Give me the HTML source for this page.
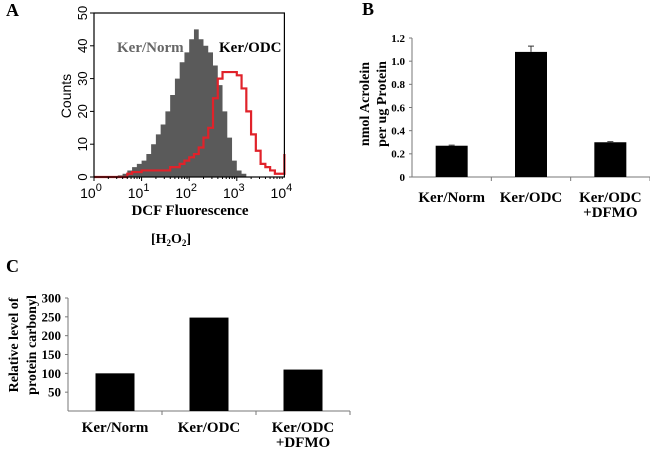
<!DOCTYPE html>
<html><head><meta charset="utf-8"><style>
body{margin:0;background:#fff;width:650px;height:450px;overflow:hidden}
svg{display:block}
text{font-family:"Liberation Serif",serif;font-weight:bold}
.s{font-family:"Liberation Sans",sans-serif;font-weight:normal}
</style></head><body>
<svg id="fig" width="650" height="450" viewBox="0 0 650 450">
<text x="6" y="16" font-size="18">A</text>
<text x="362" y="15" font-size="18">B</text>
<text x="6" y="272" font-size="18">C</text>
<g id="ga"></g>
<g id="gb"></g>
<g id="gc"></g>
</svg>
<script>
// Panel A data (bins of 0.1 decade from 10^0 to 10^4)
const grayCounts=[0,0,0,0,0,0.5,1,2,3,4,5,7,10,13,16,20,25,30,35,38,42,45,42,40,38,34,28,20,12,5,2,1,0,0,0,0,0,0,0,0];
const redCounts=[0,0,0,0,0,0,0,1,1.5,1.5,2,2,2,2,2,2,3,3,4,5,6,7,9,12,15,24,30,32,32,32,31,27,20,13,8,4,3,2,1,1,7];
const aYTicks=[0,10,20,30,40,50];
const aXTicks=[0,1,2,3,4];
// Panel B
const bCats=[["Ker/Norm"],["Ker/ODC"],["Ker/ODC","+DFMO"]];
const bVals=[0.27,1.08,0.30];
const bErr=[0.005,0.05,0.005];
const bTicks=["0","0.2","0.4","0.6","0.8","1.0","1.2"];
// Panel C
const cCats=[["Ker/Norm"],["Ker/ODC"],["Ker/ODC","+DFMO"]];
const cVals=[100,248,110];
const cTicks=[50,100,150,200,250,300];

const NS="http://www.w3.org/2000/svg";
function mk(p,tag,at,txt){const e=document.createElementNS(NS,tag);for(const k in at)e.setAttribute(k,at[k]);if(txt!==undefined)e.textContent=txt;p.appendChild(e);return e;}

// ---- Panel A
(function(){
const g=document.getElementById('ga');
const x0=94,dec=47.6,yb=177,yt=13;
const X=d=>x0+d*dec, Y=v=>yb-(v/50)*(yb-yt);
let p=`M${X(0)},${Y(0)}`;
grayCounts.forEach((v,i)=>{p+=`L${X(i*0.1)},${Y(v)}L${X((i+1)*0.1)},${Y(v)}`;});
p+=`L${X(4)},${Y(0)}Z`;
let e=mk(g,'path',{d:p,fill:'#5a5a5a'});


let r=`M${X(0)},${Y(redCounts[0])}`;
redCounts.forEach((v,i)=>{const a=Math.min(i*0.1,4),b=Math.min((i+1)*0.1,4);r+=`L${X(a)},${Y(v)}L${X(b)},${Y(v)}`;});
e=mk(g,'path',{d:r,fill:'none',stroke:'#e0222a','stroke-width':2.2});


e=mk(g,'rect',{x:x0,y:yt,width:4*dec,height:yb-yt,fill:'none',stroke:'#000','stroke-width':1.2});


aYTicks.forEach(v=>{mk(g,'line',{x1:x0-4,x2:x0,y1:Y(v),y2:Y(v),stroke:'#000'});
 const t=mk(g,'text',{x:x0-7,y:Y(v),class:'s','font-size':13,'text-anchor':'middle',transform:`rotate(-90 ${x0-7} ${Y(v)})`},String(v));
 
 });
for(let d=0;d<4;d++)for(let k=1;k<10;k++){const xx=X(d+Math.log10(k));mk(g,'line',{x1:xx,x2:xx,y1:yb,y2:yb+(k==1?4:2),stroke:'#000'});}
aXTicks.forEach(d=>{const t=mk(g,'text',{x:X(d)-3,y:198,class:'s','font-size':14,'text-anchor':'middle'});
 
 
 t.textContent='10';mk(t,'tspan',{dy:-7,'font-size':11},String(d));});
e=mk(g,'text',{x:190,y:215,'font-size':15,'text-anchor':'middle'},'DCF Fluorescence');


e=mk(g,'text',{x:71,y:96,class:'s','font-size':14,'text-anchor':'middle',transform:'rotate(-90 71 96)'},'Counts');


e=mk(g,'text',{x:117,y:52,'font-size':15,fill:'#666'},'Ker/Norm');


e=mk(g,'text',{x:219,y:52,'font-size':15},'Ker/ODC');


e=mk(g,'text',{x:171,y:243,'font-size':14,'text-anchor':'middle'});


e.innerHTML='[H<tspan font-size="9" dy="3">2</tspan><tspan dy="-3">O</tspan><tspan font-size="9" dy="3">2</tspan><tspan dy="-3">]</tspan>';
})();

// ---- bar chart helper
function bars(g,o){
 const Y=v=>o.yb-(v/o.max)*(o.yb-o.yt);
 mk(g,'line',{x1:o.ax,x2:o.ax,y1:Y(o.max),y2:o.yb,stroke:'#777'});
 mk(g,'line',{x1:o.ax,x2:o.xe,y1:o.yb,y2:o.yb,stroke:'#777'});
 const n=o.vals.length,step=(o.xe-o.ax)/n;
 for(let i=1;i<=n;i++)mk(g,'line',{x1:o.ax+i*step,x2:o.ax+i*step,y1:o.yb,y2:o.yb+4,stroke:'#777'});
 o.ticks.forEach(t=>{const v=parseFloat(t);mk(g,'line',{x1:o.ax-3,x2:o.ax,y1:Y(v),y2:Y(v),stroke:'#777'});
  const e=mk(g,'text',{x:o.ax-7,y:Y(v)+o.fs*0.35,'font-size':o.fs,'text-anchor':'end'},String(t));
  
  });
 o.vals.forEach((v,i)=>{const cx=o.ax+(i+0.5)*step;
  const b=mk(g,'rect',{x:cx-o.bw/2,y:Y(v),width:o.bw,height:o.yb-Y(v),fill:'#000'});
  
  
  if(o.err){const ey=Y(v+o.err[i]);mk(g,'line',{x1:cx,x2:cx,y1:ey,y2:Y(v),stroke:'#333'});mk(g,'line',{x1:cx-3,x2:cx+3,y1:ey,y2:ey,stroke:'#333'});}
  o.cats[i].forEach((s,j)=>{const t=mk(g,'text',{x:cx,y:o.ly+j*15,'font-size':o.lfs,'text-anchor':'middle'},s);
   
   });
 });
}
bars(document.getElementById('gb'),{ax:412,xe:650,yb:177,yt:38,max:1.2,vals:bVals,err:bErr,ticks:bTicks,cats:bCats,bw:32,fs:11,lfs:15,ly:202});
bars(document.getElementById('gc'),{ax:68,xe:350,yb:411,yt:298,max:300,vals:cVals,ticks:cTicks,cats:cCats,bw:39,fs:13,lfs:15,ly:432});
(function(){
 let e=mk(document.getElementById('gb'),'text',{'font-size':14,'text-anchor':'middle',transform:'translate(375 104) rotate(-90)'});
 
 
 mk(e,'tspan',{x:0,y:-6},'nmol Acrolein');mk(e,'tspan',{x:0,y:11},'per ug Protein');
 e=mk(document.getElementById('gc'),'text',{'font-size':14,'text-anchor':'middle',transform:'translate(21 345) rotate(-90)'});
 
 
 mk(e,'tspan',{x:0,y:-3},'Relative level of');mk(e,'tspan',{x:0,y:15},'protein carbonyl');
})();
</script>
</body></html>
